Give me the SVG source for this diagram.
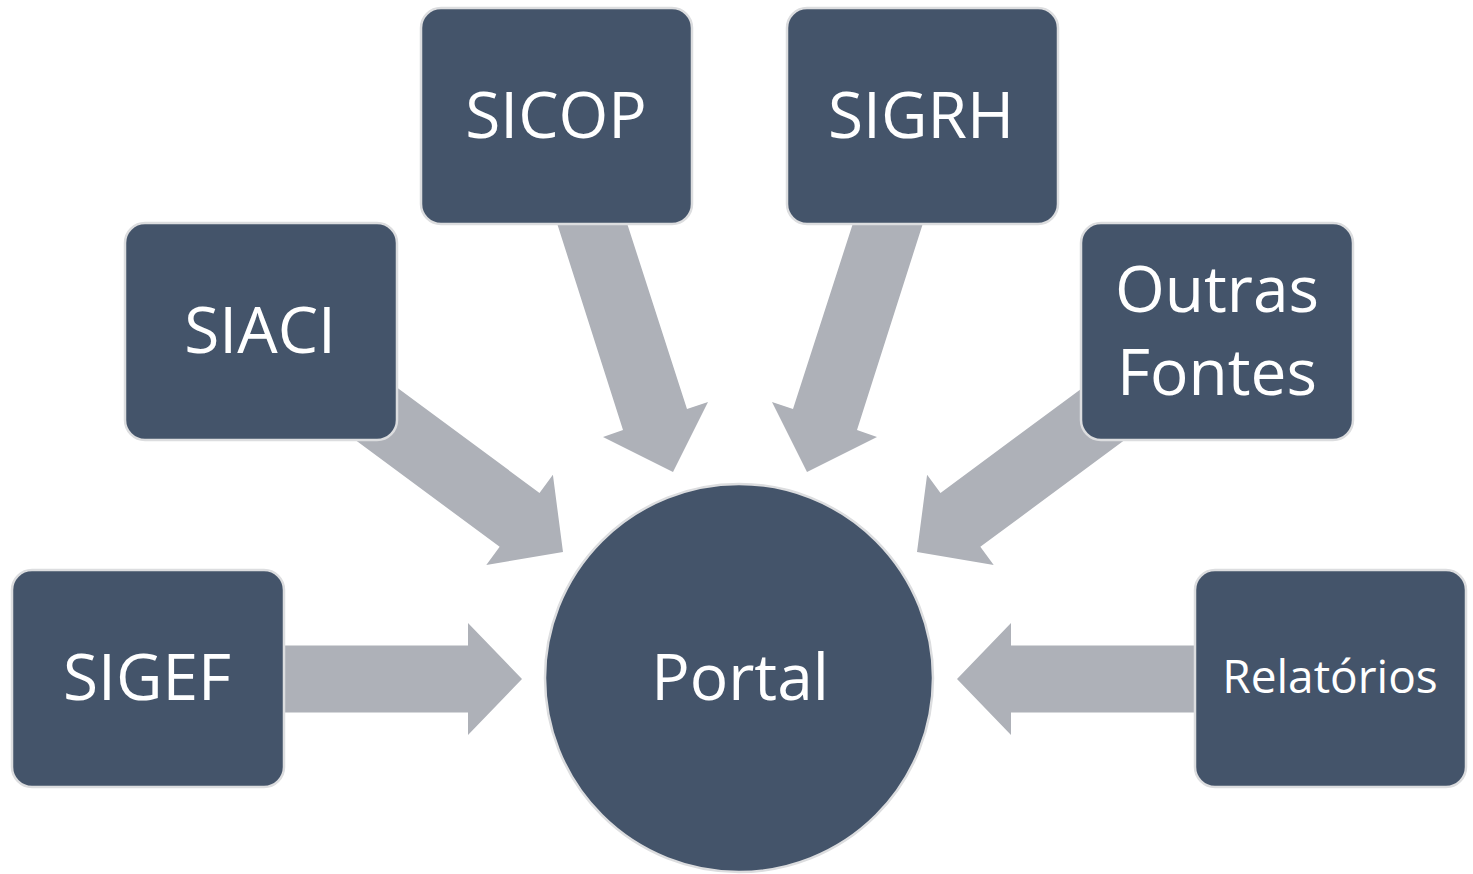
<svg xmlns="http://www.w3.org/2000/svg" width="1473" height="874" viewBox="0 0 1473 874">
<style>
.box{fill:#44546A;stroke:#DCDDDF;stroke-width:2.5}
.arr{fill:#AEB1B8}
.t{font-family:"Open Sans","Noto Sans","DejaVu Sans",sans-serif;fill:#FFFFFF;text-anchor:middle;font-size:64px}
</style>
<defs>
<path id="a" d="M0,0 L-54,-56 L-54,-33.5 L-260,-33.5 L-260,33.5 L-54,33.5 L-54,56 Z"/>
</defs>
<rect width="1473" height="874" fill="#FFFFFF"/>
<g id="connectors">
<path class="arr" d="M522,679 L468,623 L468,645.5 L270,645.5 L270,712.5 L468,712.5 L468,735 Z"/>
<path class="arr" d="M957,679 L1011,623 L1011,645.5 L1210,645.5 L1210,712.5 L1011,712.5 L1011,735 Z"/>
<path class="arr" d="M556,220 L626,220 L687,409 L708,402 L673,472 L603,437 L623,430 Z"/>
<path class="arr" d="M924,220 L854,220 L793,409 L772,402 L807,472 L877,437 L857,430 Z"/>
<use href="#a" class="arr" transform="translate(563,552) rotate(36.5)"/>
<use href="#a" class="arr" transform="translate(917,552) rotate(143.5)"/>
</g>
<g id="sicop"><rect class="box" x="421" y="8" width="271" height="216" rx="20"/><text class="t" x="556" y="138">SICOP</text></g>
<g id="sigrh"><rect class="box" x="787" y="8" width="271" height="216" rx="20"/><text class="t" x="921" y="138">SIGRH</text></g>
<g id="siaci"><rect class="box" x="125" y="223" width="272" height="217" rx="20"/><text class="t" x="260" y="353">SIACI</text></g>
<g id="outras"><rect class="box" x="1081" y="223" width="272" height="217" rx="20"/><text class="t" x="1217" y="312">Outras</text><text class="t" x="1217" y="395">Fontes</text></g>
<g id="sigef"><rect class="box" x="12" y="570" width="272" height="217" rx="20"/><text class="t" x="147" y="700">SIGEF</text></g>
<g id="relatorios"><rect class="box" x="1195" y="570" width="271" height="217" rx="20"/><text class="t" x="1330" y="693" style="font-size:46px">Relatórios</text></g>
<g id="portal"><circle class="box" cx="739" cy="678" r="194"/><text class="t" x="740" y="700">Portal</text></g>
</svg>
